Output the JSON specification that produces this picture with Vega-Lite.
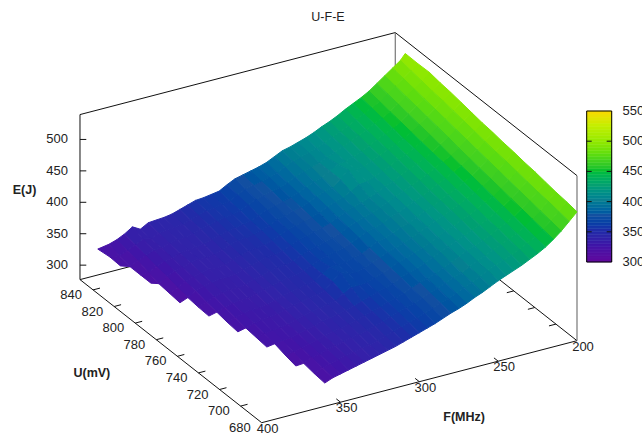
{"$schema":"https://vega.github.io/schema/vega-lite/v6.json","width":642,"height":438,"autosize":"none","padding":0,"background":"white",
"title":{"text":"U-F-E","fontSize":12.5,"fontWeight":"normal","font":"Liberation Sans","color":"#222","anchor":"middle","dx":7,"offset":-23},
"config":{"view":{"stroke":null},"font":"Liberation Sans"},
"datasets":{
"frame":[
{"F1":400,"U1":852.4,"E1":277,"F2":400,"U2":680,"E2":277},{"F1":400,"U1":680,"E1":277,"F2":200,"U2":680,"E2":277},{"F1":400,"U1":852.4,"E1":277,"F2":200,"U2":852.4,"E2":277},{"F1":200,"U1":852.4,"E1":277,"F2":200,"U2":680,"E2":277},
{"F1":400,"U1":852.4,"E1":539.6,"F2":200,"U2":852.4,"E2":539.6},{"F1":200,"U1":852.4,"E1":539.6,"F2":200,"U2":680,"E2":539.6},{"F1":400,"U1":852.4,"E1":277,"F2":400,"U2":852.4,"E2":539.6},
{"F1":400,"U1":852.4,"E1":300,"F2":396,"U2":852.4,"E2":297.4},{"F1":400,"U1":852.4,"E1":350,"F2":396,"U2":852.4,"E2":347.4},{"F1":400,"U1":852.4,"E1":400,"F2":396,"U2":852.4,"E2":397.4},{"F1":400,"U1":852.4,"E1":450,"F2":396,"U2":852.4,"E2":447.4},{"F1":400,"U1":852.4,"E1":500,"F2":396,"U2":852.4,"E2":497.4},
{"F1":400,"U1":700,"E1":277,"F2":395.6,"U2":700,"E2":277},{"F1":400,"U1":720,"E1":277,"F2":395.6,"U2":720,"E2":277},{"F1":400,"U1":740,"E1":277,"F2":395.6,"U2":740,"E2":277},{"F1":400,"U1":760,"E1":277,"F2":395.6,"U2":760,"E2":277},{"F1":400,"U1":780,"E1":277,"F2":395.6,"U2":780,"E2":277},{"F1":400,"U1":800,"E1":277,"F2":395.6,"U2":800,"E2":277},{"F1":400,"U1":820,"E1":277,"F2":395.6,"U2":820,"E2":277},{"F1":400,"U1":840,"E1":277,"F2":395.6,"U2":840,"E2":277},
{"F1":200,"U1":700,"E1":277,"F2":204.4,"U2":700,"E2":277},{"F1":200,"U1":720,"E1":277,"F2":204.4,"U2":720,"E2":277},{"F1":200,"U1":740,"E1":277,"F2":204.4,"U2":740,"E2":277},{"F1":200,"U1":760,"E1":277,"F2":204.4,"U2":760,"E2":277},{"F1":200,"U1":780,"E1":277,"F2":204.4,"U2":780,"E2":277},
{"F1":350,"U1":680,"E1":277,"F2":350,"U2":684,"E2":277},{"F1":300,"U1":680,"E1":277,"F2":300,"U2":684,"E2":277},{"F1":250,"U1":680,"E1":277,"F2":250,"U2":684,"E2":277}],
"gray":[{"F1":200,"U1":852.4,"E1":277,"F2":200,"U2":852.4,"E2":539.6},{"F1":200,"U1":680,"E1":277,"F2":200,"U2":680,"E2":539.6}],
"elab":[{"t":"300","F":400,"U":852.4,"E":300},{"t":"350","F":400,"U":852.4,"E":350},{"t":"400","F":400,"U":852.4,"E":400},{"t":"450","F":400,"U":852.4,"E":450},{"t":"500","F":400,"U":852.4,"E":500}],
"ulab":[{"t":"680","F":400,"U":680,"E":277},{"t":"700","F":400,"U":700,"E":277},{"t":"720","F":400,"U":720,"E":277},{"t":"740","F":400,"U":740,"E":277},{"t":"760","F":400,"U":760,"E":277},{"t":"780","F":400,"U":780,"E":277},{"t":"800","F":400,"U":800,"E":277},{"t":"820","F":400,"U":820,"E":277},{"t":"840","F":400,"U":840,"E":277}],
"flab":[{"t":"400","F":400,"U":680,"E":277},{"t":"350","F":350,"U":680,"E":277},{"t":"300","F":300,"U":680,"E":277},{"t":"250","F":250,"U":680,"E":277},{"t":"200","F":200,"U":680,"E":277}],
"names":[{"t":"U(mV)","F":450.9,"U":765,"E":277},{"t":"F(MHz)","F":300,"U":637.5,"E":277},{"t":"E(J)","F":435.2,"U":852.4,"E":277}],
"cbt":[{"cb":350,"s":0},{"cb":350,"s":1},{"cb":400,"s":0},{"cb":400,"s":1},{"cb":450,"s":0},{"cb":450,"s":1},{"cb":500,"s":0},{"cb":500,"s":1}],
"cbl":[{"cb":300,"t":"300"},{"cb":350,"t":"350"},{"cb":400,"t":"400"},{"cb":450,"t":"450"},{"cb":500,"t":"500"},{"cb":550,"t":"550"}],
"cbo":[{"c0":300,"c1":550}],
"cbar":[{"cb":300},{"cb":305},{"cb":310},{"cb":315},{"cb":320},{"cb":325},{"cb":330},{"cb":335},{"cb":340},{"cb":345},{"cb":350},{"cb":355},{"cb":360},{"cb":365},{"cb":370},{"cb":375},{"cb":380},{"cb":385},{"cb":390},{"cb":395},{"cb":400},{"cb":405},{"cb":410},{"cb":415},{"cb":420},{"cb":425},{"cb":430},{"cb":435},{"cb":440},{"cb":445},{"cb":450},{"cb":455},{"cb":460},{"cb":465},{"cb":470},{"cb":475},{"cb":480},{"cb":485},{"cb":490},{"cb":495},{"cb":500},{"cb":505},{"cb":510},{"cb":515},{"cb":520},{"cb":525},{"cb":530},{"cb":535},{"cb":540},{"cb":545}],
"grid":[
{"F":200,"U":680,"E":482},{"F":200,"U":690,"E":485},{"F":200,"U":700,"E":487},{"F":200,"U":710,"E":490},{"F":200,"U":720,"E":493},{"F":200,"U":730,"E":495},{"F":200,"U":740,"E":498},{"F":200,"U":750,"E":500},{"F":200,"U":760,"E":503},{"F":200,"U":770,"E":505},{"F":200,"U":780,"E":508},{"F":200,"U":790,"E":511},{"F":200,"U":800,"E":514},{"F":200,"U":810,"E":516},{"F":200,"U":820,"E":519},{"F":201,"U":830,"E":521},{"F":202,"U":840,"E":524},
{"F":205,"U":680,"E":470},{"F":205,"U":690,"E":473},{"F":205,"U":700,"E":476},{"F":205,"U":710,"E":478},{"F":205,"U":720,"E":481},{"F":205,"U":730,"E":484},{"F":205,"U":740,"E":487},{"F":205,"U":750,"E":489},{"F":205,"U":760,"E":492},{"F":205,"U":770,"E":495},{"F":205,"U":780,"E":498},{"F":205,"U":790,"E":501},{"F":205,"U":800,"E":504},{"F":205,"U":810,"E":506},{"F":205,"U":820,"E":509},{"F":205,"U":830,"E":512},{"F":205,"U":840,"E":515},
{"F":210,"U":680,"E":458},{"F":210,"U":690,"E":461},{"F":210,"U":700,"E":464},{"F":210,"U":710,"E":467},{"F":210,"U":720,"E":470},{"F":210,"U":730,"E":473},{"F":210,"U":740,"E":476},{"F":210,"U":750,"E":479},{"F":210,"U":760,"E":482},{"F":210,"U":770,"E":485},{"F":210,"U":780,"E":488},{"F":210,"U":790,"E":491},{"F":210,"U":800,"E":494},{"F":210,"U":810,"E":497},{"F":210,"U":820,"E":500},{"F":210,"U":830,"E":503},{"F":210,"U":840,"E":506},
{"F":215,"U":680,"E":448},{"F":215,"U":690,"E":451},{"F":215,"U":700,"E":454},{"F":215,"U":710,"E":457},{"F":215,"U":720,"E":460},{"F":215,"U":730,"E":463},{"F":215,"U":740,"E":466},{"F":215,"U":750,"E":469},{"F":215,"U":760,"E":472},{"F":215,"U":770,"E":475},{"F":215,"U":780,"E":479},{"F":215,"U":790,"E":482},{"F":215,"U":800,"E":485},{"F":215,"U":810,"E":488},{"F":215,"U":820,"E":491},{"F":215,"U":830,"E":494},{"F":215,"U":840,"E":497},
{"F":220,"U":680,"E":439},{"F":220,"U":690,"E":442},{"F":220,"U":700,"E":445},{"F":220,"U":710,"E":448},{"F":220,"U":720,"E":451},{"F":220,"U":730,"E":454},{"F":220,"U":740,"E":457},{"F":220,"U":750,"E":460},{"F":220,"U":760,"E":463},{"F":220,"U":770,"E":466},{"F":220,"U":780,"E":470},{"F":220,"U":790,"E":473},{"F":220,"U":800,"E":476},{"F":220,"U":810,"E":479},{"F":220,"U":820,"E":482},{"F":220,"U":830,"E":485},{"F":220,"U":840,"E":488},
{"F":225,"U":680,"E":432},{"F":225,"U":690,"E":435},{"F":225,"U":700,"E":438},{"F":225,"U":710,"E":441},{"F":225,"U":720,"E":444},{"F":225,"U":730,"E":447},{"F":225,"U":740,"E":450},{"F":225,"U":750,"E":453},{"F":225,"U":760,"E":456},{"F":225,"U":770,"E":459},{"F":225,"U":780,"E":461},{"F":225,"U":790,"E":464},{"F":225,"U":800,"E":467},{"F":225,"U":810,"E":470},{"F":225,"U":820,"E":473},{"F":225,"U":830,"E":476},{"F":225,"U":840,"E":479},
{"F":230,"U":680,"E":426},{"F":230,"U":690,"E":429},{"F":230,"U":700,"E":432},{"F":230,"U":710,"E":435},{"F":230,"U":720,"E":437},{"F":230,"U":730,"E":440},{"F":230,"U":740,"E":443},{"F":230,"U":750,"E":446},{"F":230,"U":760,"E":449},{"F":230,"U":770,"E":452},{"F":230,"U":780,"E":455},{"F":230,"U":790,"E":458},{"F":230,"U":800,"E":460},{"F":230,"U":810,"E":463},{"F":230,"U":820,"E":466},{"F":230,"U":830,"E":469},{"F":230,"U":840,"E":472},
{"F":235,"U":680,"E":420},{"F":235,"U":690,"E":423},{"F":235,"U":700,"E":426},{"F":235,"U":710,"E":428},{"F":235,"U":720,"E":431},{"F":235,"U":730,"E":434},{"F":235,"U":740,"E":437},{"F":235,"U":750,"E":440},{"F":235,"U":760,"E":443},{"F":235,"U":770,"E":446},{"F":235,"U":780,"E":449},{"F":235,"U":790,"E":451},{"F":235,"U":800,"E":454},{"F":235,"U":810,"E":457},{"F":235,"U":820,"E":460},{"F":235,"U":830,"E":463},{"F":235,"U":840,"E":466},
{"F":240,"U":680,"E":415},{"F":240,"U":690,"E":418},{"F":240,"U":700,"E":421},{"F":240,"U":710,"E":423},{"F":240,"U":720,"E":426},{"F":240,"U":730,"E":429},{"F":240,"U":740,"E":432},{"F":240,"U":750,"E":434},{"F":240,"U":760,"E":437},{"F":240,"U":770,"E":440},{"F":240,"U":780,"E":443},{"F":240,"U":790,"E":446},{"F":240,"U":800,"E":449},{"F":240,"U":810,"E":451},{"F":240,"U":820,"E":454},{"F":240,"U":830,"E":457},{"F":240,"U":840,"E":460},
{"F":245,"U":680,"E":410},{"F":245,"U":690,"E":413},{"F":245,"U":700,"E":415},{"F":245,"U":710,"E":418},{"F":245,"U":720,"E":421},{"F":245,"U":730,"E":423},{"F":245,"U":740,"E":426},{"F":245,"U":750,"E":428},{"F":245,"U":760,"E":431},{"F":245,"U":770,"E":434},{"F":245,"U":780,"E":437},{"F":245,"U":790,"E":439},{"F":245,"U":800,"E":442},{"F":245,"U":810,"E":445},{"F":245,"U":820,"E":448},{"F":245,"U":830,"E":450},{"F":245,"U":840,"E":453},
{"F":250,"U":680,"E":405},{"F":250,"U":690,"E":408},{"F":250,"U":700,"E":410},{"F":250,"U":710,"E":413},{"F":250,"U":720,"E":416},{"F":250,"U":730,"E":418},{"F":250,"U":740,"E":421},{"F":250,"U":750,"E":423},{"F":250,"U":760,"E":426},{"F":250,"U":770,"E":428},{"F":250,"U":780,"E":431},{"F":250,"U":790,"E":434},{"F":250,"U":800,"E":437},{"F":250,"U":810,"E":439},{"F":250,"U":820,"E":442},{"F":250,"U":830,"E":444},{"F":250,"U":840,"E":447},
{"F":255,"U":680,"E":399},{"F":255,"U":690,"E":402},{"F":255,"U":700,"E":404},{"F":255,"U":710,"E":407},{"F":255,"U":720,"E":410},{"F":255,"U":730,"E":412},{"F":255,"U":740,"E":415},{"F":255,"U":750,"E":417},{"F":255,"U":760,"E":420},{"F":255,"U":770,"E":423},{"F":255,"U":780,"E":426},{"F":255,"U":790,"E":428},{"F":255,"U":800,"E":431},{"F":255,"U":810,"E":434},{"F":255,"U":820,"E":437},{"F":255,"U":830,"E":439},{"F":255,"U":840,"E":442},
{"F":260,"U":680,"E":393},{"F":260,"U":690,"E":396},{"F":260,"U":700,"E":398},{"F":260,"U":710,"E":401},{"F":260,"U":720,"E":404},{"F":260,"U":730,"E":406},{"F":260,"U":740,"E":409},{"F":260,"U":750,"E":411},{"F":260,"U":760,"E":414},{"F":260,"U":770,"E":417},{"F":260,"U":780,"E":420},{"F":260,"U":790,"E":425},{"F":260,"U":800,"E":430},{"F":260,"U":810,"E":430},{"F":260,"U":820,"E":431},{"F":260,"U":830,"E":433},{"F":260,"U":840,"E":436},
{"F":265,"U":680,"E":388},{"F":265,"U":690,"E":391},{"F":265,"U":700,"E":393},{"F":265,"U":710,"E":396},{"F":265,"U":720,"E":399},{"F":265,"U":730,"E":401},{"F":265,"U":740,"E":404},{"F":265,"U":750,"E":407},{"F":265,"U":760,"E":410},{"F":265,"U":770,"E":412},{"F":265,"U":780,"E":415},{"F":265,"U":790,"E":424},{"F":265,"U":800,"E":433},{"F":265,"U":810,"E":429},{"F":265,"U":820,"E":426},{"F":265,"U":830,"E":428},{"F":265,"U":840,"E":431},
{"F":270,"U":680,"E":382},{"F":270,"U":690,"E":385},{"F":270,"U":700,"E":388},{"F":270,"U":710,"E":390},{"F":270,"U":720,"E":393},{"F":270,"U":730,"E":396},{"F":270,"U":740,"E":399},{"F":270,"U":750,"E":401},{"F":270,"U":760,"E":404},{"F":270,"U":770,"E":407},{"F":270,"U":780,"E":410},{"F":270,"U":790,"E":415},{"F":270,"U":800,"E":421},{"F":270,"U":810,"E":421},{"F":270,"U":820,"E":421},{"F":270,"U":830,"E":424},{"F":270,"U":840,"E":427},
{"F":275,"U":680,"E":377},{"F":275,"U":690,"E":380},{"F":275,"U":700,"E":383},{"F":275,"U":710,"E":385},{"F":275,"U":720,"E":388},{"F":275,"U":730,"E":391},{"F":275,"U":740,"E":394},{"F":275,"U":750,"E":397},{"F":275,"U":760,"E":400},{"F":275,"U":770,"E":403},{"F":275,"U":780,"E":406},{"F":275,"U":790,"E":408},{"F":275,"U":800,"E":411},{"F":275,"U":810,"E":414},{"F":275,"U":820,"E":417},{"F":275,"U":830,"E":420},{"F":275,"U":840,"E":423},
{"F":280,"U":680,"E":373},{"F":280,"U":690,"E":376},{"F":280,"U":700,"E":379},{"F":280,"U":710,"E":382},{"F":280,"U":720,"E":385},{"F":280,"U":730,"E":388},{"F":280,"U":740,"E":391},{"F":280,"U":750,"E":394},{"F":280,"U":760,"E":397},{"F":280,"U":770,"E":399},{"F":280,"U":780,"E":402},{"F":280,"U":790,"E":405},{"F":280,"U":800,"E":408},{"F":280,"U":810,"E":411},{"F":280,"U":820,"E":414},{"F":280,"U":830,"E":417},{"F":280,"U":840,"E":420},
{"F":285,"U":680,"E":368},{"F":285,"U":690,"E":371},{"F":285,"U":700,"E":374},{"F":285,"U":710,"E":377},{"F":285,"U":720,"E":380},{"F":285,"U":730,"E":382},{"F":285,"U":740,"E":385},{"F":285,"U":750,"E":388},{"F":285,"U":760,"E":391},{"F":285,"U":770,"E":394},{"F":285,"U":780,"E":397},{"F":285,"U":790,"E":400},{"F":285,"U":800,"E":403},{"F":285,"U":810,"E":405},{"F":285,"U":820,"E":408},{"F":285,"U":830,"E":411},{"F":285,"U":840,"E":414},
{"F":290,"U":680,"E":363},{"F":290,"U":690,"E":366},{"F":290,"U":700,"E":369},{"F":290,"U":710,"E":371},{"F":290,"U":720,"E":374},{"F":290,"U":730,"E":377},{"F":290,"U":740,"E":380},{"F":290,"U":750,"E":382},{"F":290,"U":760,"E":385},{"F":290,"U":770,"E":388},{"F":290,"U":780,"E":391},{"F":290,"U":790,"E":394},{"F":290,"U":800,"E":397},{"F":290,"U":810,"E":399},{"F":290,"U":820,"E":402},{"F":290,"U":830,"E":405},{"F":290,"U":840,"E":408},
{"F":295,"U":680,"E":359},{"F":295,"U":690,"E":362},{"F":295,"U":700,"E":365},{"F":295,"U":710,"E":367},{"F":295,"U":720,"E":370},{"F":295,"U":730,"E":373},{"F":295,"U":740,"E":376},{"F":295,"U":750,"E":378},{"F":295,"U":760,"E":381},{"F":295,"U":770,"E":384},{"F":295,"U":780,"E":387},{"F":295,"U":790,"E":390},{"F":295,"U":800,"E":393},{"F":295,"U":810,"E":395},{"F":295,"U":820,"E":398},{"F":295,"U":830,"E":401},{"F":295,"U":840,"E":404},
{"F":300,"U":680,"E":355},{"F":300,"U":690,"E":358},{"F":300,"U":700,"E":361},{"F":300,"U":710,"E":364},{"F":300,"U":720,"E":367},{"F":300,"U":730,"E":369},{"F":300,"U":740,"E":372},{"F":300,"U":750,"E":375},{"F":300,"U":760,"E":378},{"F":300,"U":770,"E":381},{"F":300,"U":780,"E":384},{"F":300,"U":790,"E":387},{"F":300,"U":800,"E":390},{"F":300,"U":810,"E":392},{"F":300,"U":820,"E":395},{"F":300,"U":830,"E":398},{"F":300,"U":840,"E":401},
{"F":305,"U":680,"E":351},{"F":305,"U":690,"E":354},{"F":305,"U":700,"E":357},{"F":305,"U":710,"E":360},{"F":305,"U":720,"E":363},{"F":305,"U":730,"E":368},{"F":305,"U":740,"E":373},{"F":305,"U":750,"E":374},{"F":305,"U":760,"E":375},{"F":305,"U":770,"E":377},{"F":305,"U":780,"E":380},{"F":305,"U":790,"E":383},{"F":305,"U":800,"E":386},{"F":305,"U":810,"E":389},{"F":305,"U":820,"E":392},{"F":305,"U":830,"E":395},{"F":305,"U":840,"E":398},
{"F":310,"U":680,"E":347},{"F":310,"U":690,"E":350},{"F":310,"U":700,"E":353},{"F":310,"U":710,"E":356},{"F":310,"U":720,"E":359},{"F":310,"U":730,"E":368},{"F":310,"U":740,"E":378},{"F":310,"U":750,"E":374},{"F":310,"U":760,"E":371},{"F":310,"U":770,"E":374},{"F":310,"U":780,"E":377},{"F":310,"U":790,"E":380},{"F":310,"U":800,"E":383},{"F":310,"U":810,"E":386},{"F":310,"U":820,"E":389},{"F":310,"U":830,"E":392},{"F":310,"U":840,"E":395},
{"F":315,"U":680,"E":343},{"F":315,"U":690,"E":346},{"F":315,"U":700,"E":349},{"F":315,"U":710,"E":352},{"F":315,"U":720,"E":355},{"F":315,"U":730,"E":361},{"F":315,"U":740,"E":367},{"F":315,"U":750,"E":366},{"F":315,"U":760,"E":366},{"F":315,"U":770,"E":369},{"F":315,"U":780,"E":372},{"F":315,"U":790,"E":374},{"F":315,"U":800,"E":377},{"F":315,"U":810,"E":380},{"F":315,"U":820,"E":383},{"F":315,"U":830,"E":386},{"F":315,"U":840,"E":389},
{"F":320,"U":680,"E":340},{"F":320,"U":690,"E":342},{"F":320,"U":700,"E":345},{"F":320,"U":710,"E":348},{"F":320,"U":720,"E":351},{"F":320,"U":730,"E":353},{"F":320,"U":740,"E":356},{"F":320,"U":750,"E":358},{"F":320,"U":760,"E":361},{"F":320,"U":770,"E":363},{"F":320,"U":780,"E":366},{"F":320,"U":790,"E":369},{"F":320,"U":800,"E":372},{"F":320,"U":810,"E":374},{"F":320,"U":820,"E":377},{"F":320,"U":830,"E":379},{"F":320,"U":840,"E":382},
{"F":325,"U":680,"E":337},{"F":325,"U":690,"E":339},{"F":325,"U":700,"E":342},{"F":325,"U":710,"E":345},{"F":325,"U":720,"E":348},{"F":325,"U":730,"E":350},{"F":325,"U":740,"E":353},{"F":325,"U":750,"E":355},{"F":325,"U":760,"E":358},{"F":325,"U":770,"E":361},{"F":325,"U":780,"E":364},{"F":325,"U":790,"E":366},{"F":325,"U":800,"E":369},{"F":325,"U":810,"E":372},{"F":325,"U":820,"E":375},{"F":325,"U":830,"E":377},{"F":325,"U":840,"E":380},
{"F":330,"U":680,"E":334},{"F":330,"U":690,"E":337},{"F":330,"U":700,"E":340},{"F":330,"U":710,"E":342},{"F":330,"U":720,"E":345},{"F":330,"U":730,"E":348},{"F":330,"U":740,"E":351},{"F":330,"U":750,"E":353},{"F":330,"U":760,"E":356},{"F":330,"U":770,"E":359},{"F":330,"U":780,"E":362},{"F":330,"U":790,"E":364},{"F":330,"U":800,"E":367},{"F":330,"U":810,"E":370},{"F":330,"U":820,"E":373},{"F":330,"U":830,"E":375},{"F":330,"U":840,"E":378},
{"F":335,"U":680,"E":331},{"F":335,"U":690,"E":334},{"F":335,"U":700,"E":337},{"F":335,"U":710,"E":340},{"F":335,"U":720,"E":343},{"F":335,"U":730,"E":345},{"F":335,"U":740,"E":348},{"F":335,"U":750,"E":351},{"F":335,"U":760,"E":354},{"F":335,"U":770,"E":357},{"F":335,"U":780,"E":360},{"F":335,"U":790,"E":363},{"F":335,"U":800,"E":366},{"F":335,"U":810,"E":368},{"F":335,"U":820,"E":371},{"F":335,"U":830,"E":374},{"F":335,"U":840,"E":377},
{"F":340,"U":680,"E":328},{"F":340,"U":690,"E":331},{"F":340,"U":700,"E":334},{"F":340,"U":710,"E":336},{"F":340,"U":720,"E":339},{"F":340,"U":730,"E":342},{"F":340,"U":740,"E":345},{"F":340,"U":750,"E":347},{"F":340,"U":760,"E":350},{"F":340,"U":770,"E":353},{"F":340,"U":780,"E":356},{"F":340,"U":790,"E":359},{"F":340,"U":800,"E":362},{"F":340,"U":810,"E":364},{"F":340,"U":820,"E":367},{"F":340,"U":830,"E":370},{"F":340,"U":840,"E":373},
{"F":345,"U":680,"E":325},{"F":345,"U":690,"E":328},{"F":345,"U":700,"E":331},{"F":345,"U":710,"E":333},{"F":345,"U":720,"E":336},{"F":345,"U":730,"E":339},{"F":345,"U":740,"E":342},{"F":345,"U":750,"E":344},{"F":345,"U":760,"E":347},{"F":345,"U":770,"E":350},{"F":345,"U":780,"E":353},{"F":345,"U":790,"E":355},{"F":345,"U":800,"E":358},{"F":345,"U":810,"E":361},{"F":345,"U":820,"E":364},{"F":345,"U":830,"E":366},{"F":345,"U":840,"E":369},
{"F":350,"U":680,"E":322},{"F":350,"U":690,"E":324},{"F":350,"U":700,"E":327},{"F":350,"U":710,"E":330},{"F":350,"U":720,"E":333},{"F":350,"U":730,"E":335},{"F":350,"U":740,"E":338},{"F":350,"U":750,"E":341},{"F":350,"U":760,"E":344},{"F":350,"U":770,"E":346},{"F":350,"U":780,"E":349},{"F":350,"U":790,"E":351},{"F":350,"U":800,"E":354},{"F":350,"U":810,"E":357},{"F":350,"U":820,"E":360},{"F":350,"U":830,"E":362},{"F":350,"U":840,"E":365},
{"F":355,"U":680,"E":319},{"F":355,"U":690,"E":322},{"F":355,"U":700,"E":325},{"F":355,"U":710,"E":327},{"F":355,"U":720,"E":330},{"F":355,"U":730,"E":333},{"F":355,"U":740,"E":336},{"F":355,"U":750,"E":338},{"F":355,"U":760,"E":341},{"F":355,"U":770,"E":344},{"F":355,"U":780,"E":347},{"F":355,"U":790,"E":349},{"F":355,"U":800,"E":352},{"F":355,"U":810,"E":355},{"F":355,"U":820,"E":358},{"F":355,"U":830,"E":360},{"F":355,"U":840,"E":363},
{"F":360,"U":680,"E":314},{"F":360,"U":690,"E":316},{"F":360,"U":700,"E":319},{"F":360,"U":710,"E":324},{"F":360,"U":720,"E":329},{"F":360,"U":730,"E":332},{"F":360,"U":740,"E":335},{"F":360,"U":750,"E":338},{"F":360,"U":760,"E":341},{"F":360,"U":770,"E":344},{"F":360,"U":780,"E":347},{"F":360,"U":790,"E":350},{"F":360,"U":800,"E":353},{"F":360,"U":810,"E":355},{"F":360,"U":820,"E":357},{"F":360,"U":830,"E":360},{"F":360,"U":840,"E":362},
{"F":365,"U":700,"E":318},{"F":365,"U":710,"E":322},{"F":365,"U":720,"E":327},{"F":365,"U":730,"E":330},{"F":365,"U":740,"E":333},{"F":365,"U":750,"E":336},{"F":365,"U":760,"E":339},{"F":365,"U":770,"E":342},{"F":365,"U":780,"E":345},{"F":365,"U":790,"E":347},{"F":365,"U":800,"E":350},{"F":365,"U":810,"E":352},{"F":365,"U":820,"E":355},{"F":365,"U":830,"E":358},{"F":365,"U":840,"E":361},
{"F":370,"U":720,"E":325},{"F":370,"U":730,"E":327},{"F":370,"U":740,"E":329},{"F":370,"U":750,"E":332},{"F":370,"U":760,"E":336},{"F":370,"U":770,"E":339},{"F":370,"U":780,"E":342},{"F":370,"U":790,"E":344},{"F":370,"U":800,"E":346},{"F":370,"U":810,"E":348},{"F":370,"U":820,"E":351},{"F":370,"U":830,"E":352},{"F":370,"U":840,"E":354},
{"F":375,"U":740,"E":326},{"F":375,"U":750,"E":328},{"F":375,"U":760,"E":331},{"F":375,"U":770,"E":334},{"F":375,"U":780,"E":338},{"F":375,"U":790,"E":340},{"F":375,"U":800,"E":343},{"F":375,"U":810,"E":346},{"F":375,"U":820,"E":350},{"F":375,"U":830,"E":355},{"F":375,"U":840,"E":361},
{"F":380,"U":760,"E":328},{"F":380,"U":770,"E":329},{"F":380,"U":780,"E":331},{"F":380,"U":790,"E":334},{"F":380,"U":800,"E":338},{"F":380,"U":810,"E":341},{"F":380,"U":820,"E":345},{"F":380,"U":830,"E":349},{"F":380,"U":840,"E":353},
{"F":385,"U":780,"E":326},{"F":385,"U":790,"E":328},{"F":385,"U":800,"E":330},{"F":385,"U":810,"E":335},{"F":385,"U":820,"E":340},{"F":385,"U":830,"E":343},{"F":385,"U":840,"E":347},
{"F":390,"U":800,"E":334},{"F":390,"U":810,"E":334},{"F":390,"U":820,"E":334},{"F":390,"U":830,"E":338},{"F":390,"U":840,"E":343},
{"F":396,"U":820,"E":339},{"F":396,"U":830,"E":340},{"F":397,"U":840,"E":340}
]},
"layer":[
{"data":{"name":"frame"},"transform":[
{"calculate":"261.7+1.5765*(400-datum.F1)-1.054*(datum.U1-680)","as":"px1"},{"calculate":"422.7-0.41*(400-datum.F1)-0.83*(datum.U1-680)-0.6285*(datum.E1-277)","as":"py1"},
{"calculate":"261.7+1.5765*(400-datum.F2)-1.054*(datum.U2-680)","as":"px2"},{"calculate":"422.7-0.41*(400-datum.F2)-0.83*(datum.U2-680)-0.6285*(datum.E2-277)","as":"py2"}],
"mark":{"type":"rule","color":"#111","strokeWidth":1},
"encoding":{"x":{"field":"px1","type":"quantitative","scale":{"domain":[0,642],"range":[0,642],"nice":false,"zero":false},"axis":null},"y":{"field":"py1","type":"quantitative","scale":{"domain":[0,438],"range":[0,438],"nice":false,"zero":false},"axis":null},"x2":{"field":"px2"},"y2":{"field":"py2"}}},
{"data":{"name":"gray"},"transform":[
{"calculate":"261.7+1.5765*(400-datum.F1)-1.054*(datum.U1-680)","as":"px1"},{"calculate":"422.7-0.41*(400-datum.F1)-0.83*(datum.U1-680)-0.6285*(datum.E1-277)","as":"py1"},
{"calculate":"261.7+1.5765*(400-datum.F2)-1.054*(datum.U2-680)","as":"px2"},{"calculate":"422.7-0.41*(400-datum.F2)-0.83*(datum.U2-680)-0.6285*(datum.E2-277)","as":"py2"}],
"mark":{"type":"rule","color":"#777","strokeWidth":1.2},
"encoding":{"x":{"field":"px1","type":"quantitative","axis":null},"y":{"field":"py1","type":"quantitative","axis":null},"x2":{"field":"px2"},"y2":{"field":"py2"}}},
{"data":{"name":"grid"},"transform":[
{"calculate":"datum.F<=202?200:round(datum.F/5)*5","as":"Fk"},
{"calculate":"[0,1,2,3]","as":"corner"},{"flatten":["corner"]},
{"calculate":"(datum.corner==1||datum.corner==2)?datum.Fk-5:datum.Fk","as":"Fc"},
{"calculate":"datum.corner>=2?datum.U-10:datum.U","as":"Uc"},
{"calculate":"datum.Fc+'_'+datum.Uc","as":"cell"},
{"joinaggregate":[{"op":"count","as":"n"},{"op":"mean","field":"E","as":"Em"}],"groupby":["cell"]},
{"filter":"datum.n==4"},
{"calculate":"datum.Em-0.14*(datum.Uc-680)","as":"Ec"},
{"calculate":"261.7+1.5765*(400-datum.F)-1.054*(datum.U-680)","as":"px"},
{"calculate":"422.7-0.41*(400-datum.F)-0.83*(datum.U-680)-0.6285*(datum.E-277)","as":"py"}],
"mark":{"type":"line","strokeWidth":1,"interpolate":"linear-closed","clip":false},
"encoding":{"x":{"field":"px","type":"quantitative","axis":null},"y":{"field":"py","type":"quantitative","axis":null},"order":{"field":"corner","type":"quantitative"},"detail":{"field":"cell","type":"nominal"},
"fill":{"field":"Ec","type":"quantitative","scale":{"domain":[300,325,350,375,400,425,450,475,500,525,550],"range":["#5f0a9e","#3f15a8","#1f2ca8","#1450a0","#0a7f90","#05a070","#0cc02c","#5adc10","#98ea00","#c6ee00","#ffd500"]},"legend":null},
"stroke":{"field":"Ec","type":"quantitative","scale":{"domain":[300,325,350,375,400,425,450,475,500,525,550],"range":["#5f0a9e","#3f15a8","#1f2ca8","#1450a0","#0a7f90","#05a070","#0cc02c","#5adc10","#98ea00","#c6ee00","#ffd500"]},"legend":null}}},
{"data":{"name":"elab"},"transform":[{"calculate":"261.7+1.5765*(400-datum.F)-1.054*(datum.U-680)","as":"px"},{"calculate":"422.7-0.41*(400-datum.F)-0.83*(datum.U-680)-0.6285*(datum.E-277)","as":"py"}],
"mark":{"type":"text","align":"right","baseline":"middle","dx":-12,"fontSize":13,"font":"Liberation Sans","color":"#222"},
"encoding":{"x":{"field":"px","type":"quantitative","axis":null},"y":{"field":"py","type":"quantitative","axis":null},"text":{"field":"t"}}},
{"data":{"name":"ulab"},"transform":[{"calculate":"261.7+1.5765*(400-datum.F)-1.054*(datum.U-680)","as":"px"},{"calculate":"422.7-0.41*(400-datum.F)-0.83*(datum.U-680)-0.6285*(datum.E-277)","as":"py"}],
"mark":{"type":"text","align":"right","baseline":"middle","dx":-11,"dy":5,"fontSize":13,"font":"Liberation Sans","color":"#222"},
"encoding":{"x":{"field":"px","type":"quantitative","axis":null},"y":{"field":"py","type":"quantitative","axis":null},"text":{"field":"t"}}},
{"data":{"name":"flab"},"transform":[{"calculate":"261.7+1.5765*(400-datum.F)-1.054*(datum.U-680)","as":"px"},{"calculate":"422.7-0.41*(400-datum.F)-0.83*(datum.U-680)-0.6285*(datum.E-277)","as":"py"}],
"mark":{"type":"text","align":"center","baseline":"middle","dx":6,"dy":6,"fontSize":13,"font":"Liberation Sans","color":"#222"},
"encoding":{"x":{"field":"px","type":"quantitative","axis":null},"y":{"field":"py","type":"quantitative","axis":null},"text":{"field":"t"}}},
{"data":{"name":"names"},"transform":[{"calculate":"261.7+1.5765*(400-datum.F)-1.054*(datum.U-680)","as":"px"},{"calculate":"datum.t=='E(J)'?190:422.7-0.41*(400-datum.F)-0.83*(datum.U-680)-0.6285*(datum.E-277)","as":"py"}],
"mark":{"type":"text","align":"center","baseline":"middle","fontSize":12.5,"fontWeight":"bold","font":"Liberation Sans","color":"#222"},
"encoding":{"x":{"field":"px","type":"quantitative","axis":null},"y":{"field":"py","type":"quantitative","axis":null},"text":{"field":"t"}}},
{"data":{"name":"cbar"},"transform":[{"calculate":"586.7","as":"px1"},{"calculate":"611.7","as":"px2"},{"calculate":"262-(datum.cb-300)*0.604","as":"py1"},{"calculate":"262-(datum.cb+5-300)*0.604","as":"py2"}],
"mark":{"type":"rect","strokeWidth":0.5},
"encoding":{"x":{"field":"px1","type":"quantitative","axis":null},"x2":{"field":"px2"},"y":{"field":"py1","type":"quantitative","axis":null},"y2":{"field":"py2"},
"fill":{"field":"cb","type":"quantitative","legend":null},"stroke":{"field":"cb","type":"quantitative","legend":null}}},
{"data":{"name":"cbo"},"transform":[{"calculate":"586.7","as":"px1"},{"calculate":"611.7","as":"px2"},{"calculate":"262-(datum.c0-300)*0.604","as":"py1"},{"calculate":"262-(datum.c1-300)*0.604","as":"py2"}],
"mark":{"type":"rect","fillOpacity":0,"stroke":"#000","strokeWidth":1},
"encoding":{"x":{"field":"px1","type":"quantitative","axis":null},"x2":{"field":"px2"},"y":{"field":"py1","type":"quantitative","axis":null},"y2":{"field":"py2"}}},
{"data":{"name":"cbt"},"transform":[{"calculate":"datum.s==0?586.7:611.7","as":"px1"},{"calculate":"datum.s==0?591.7:606.7","as":"px2"},{"calculate":"262-(datum.cb-300)*0.604","as":"py"}],
"mark":{"type":"rule","color":"#111","strokeWidth":1},
"encoding":{"x":{"field":"px1","type":"quantitative","axis":null},"x2":{"field":"px2"},"y":{"field":"py","type":"quantitative","axis":null}}},
{"data":{"name":"cbl"},"transform":[{"calculate":"622.5","as":"px"},{"calculate":"262-(datum.cb-300)*0.604","as":"py"}],
"mark":{"type":"text","align":"left","baseline":"middle","fontSize":13,"font":"Liberation Sans","color":"#222"},
"encoding":{"x":{"field":"px","type":"quantitative","axis":null},"y":{"field":"py","type":"quantitative","axis":null},"text":{"field":"t"}}}
],
"resolve":{"scale":{"x":"shared","y":"shared"}}}
